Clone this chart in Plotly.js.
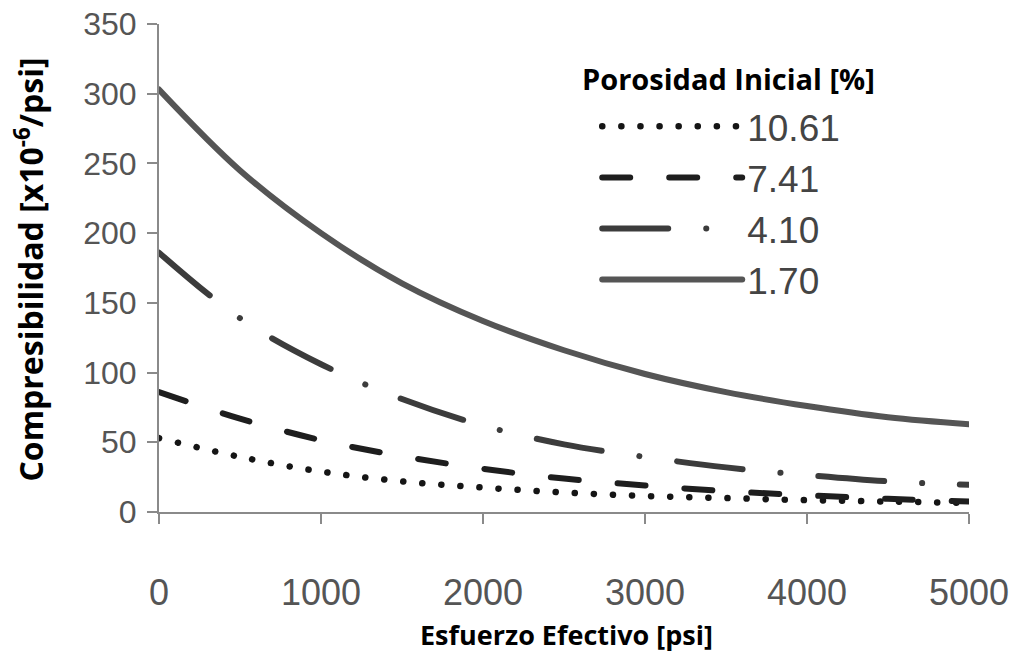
<!DOCTYPE html>
<html>
<head>
<meta charset="utf-8">
<script src="https://cdn.plot.ly/plotly-3.0.1.min.js"></script>
<style>
html,body{margin:0;padding:0;background:#fff;}
#chart{width:1014px;height:652px;}
.js-line{stroke-linecap:round !important;}
</style>
</head>
<body>
<div id="chart"></div>
<script>
// Esfuerzo efectivo [psi]
const esfuerzo = [0, 500, 1000, 1500, 2000, 2500, 3000, 3500, 4000, 4500, 5000];
// Compresibilidad [x10^-6/psi] for each initial porosity
const por_10_61 = [53, 39.5, 29, 22, 17.5, 14, 11.5, 10, 8.5, 7.5, 6.5];
const por_7_41  = [86, 67, 51.5, 40, 31, 24, 19, 15, 12, 9.5, 7.5];
const por_4_10  = [186, 139, 106, 81, 62, 48.5, 39.5, 32, 26.5, 22, 19.5];
const por_1_70  = [303, 245, 200, 164, 137, 116, 99, 86, 76, 68, 63];
const legendNames = ['10.61', '7.41', '4.10', '1.70'];
const xTicks = [0, 1000, 2000, 3000, 4000, 5000];
const yTicks = [0, 50, 100, 150, 200, 250, 300, 350];

const traces = [
  {x: esfuerzo, y: por_10_61, name: legendNames[0], mode: 'lines',
   line: {color: '#151515', width: 6.5, dash: '0.1px,19px', shape: 'spline'}},
  {x: esfuerzo, y: por_7_41, name: legendNames[1], mode: 'lines',
   line: {color: '#1e1e1e', width: 6, dash: '28px,39px', shape: 'spline'}},
  {x: esfuerzo, y: por_4_10, name: legendNames[2], mode: 'lines',
   line: {color: '#3c3c3c', width: 6, dash: '66px,38px,0.1px,38px', shape: 'spline'}},
  {x: esfuerzo, y: por_1_70, name: legendNames[3], mode: 'lines',
   line: {color: '#555555', width: 6, shape: 'spline'}}
];

const boldFont = (s) => ({family: 'Open Sans, sans-serif', size: s, color: '#000', weight: 'bold'});

const layout = {
  width: 1014, height: 652,
  margin: {l: 159, r: 45, t: 24, b: 140},
  paper_bgcolor: '#ffffff', plot_bgcolor: '#ffffff',
  showlegend: true,
  legend: {
    x: 0.541, y: 0.853, xanchor: 'left', yanchor: 'top',
    bgcolor: 'rgba(0,0,0,0)',
    font: {family: 'Liberation Sans, Arial, sans-serif', size: 37, color: '#444'},
    itemwidth: 140,
    traceorder: 'normal'
  },
  xaxis: {
    range: [0, 5000], tickvals: xTicks, ticktext: xTicks.map(String),
    showgrid: false, zeroline: false,
    showline: true, linecolor: '#8a8a8a', linewidth: 2,
    ticks: 'outside', ticklen: 10, tickwidth: 2, tickcolor: '#8a8a8a',
    ticklabelstandoff: 38,
    tickfont: {family: 'Liberation Sans, Arial, sans-serif', size: 36, color: '#555'}
  },
  yaxis: {
    range: [0, 350], tickvals: yTicks, ticktext: yTicks.map(String),
    showgrid: false, zeroline: false,
    showline: true, linecolor: '#8a8a8a', linewidth: 2,
    ticks: 'outside', ticklen: 10, tickwidth: 2, tickcolor: '#8a8a8a',
    ticklabelstandoff: 4,
    tickfont: {family: 'Liberation Sans, Arial, sans-serif', size: 32, color: '#555'}
  },
  annotations: [
    {text: 'Compresibilidad [x10<sup>-6</sup>/psi]', xref: 'paper', yref: 'paper',
     x: -0.161, y: 0.496, xanchor: 'center', yanchor: 'middle', textangle: -90,
     showarrow: false, font: boldFont(32)},
    {text: 'Esfuerzo Efectivo [psi]', xref: 'paper', yref: 'paper',
     x: 0.503, y: -0.25, xanchor: 'center', yanchor: 'middle',
     showarrow: false, font: boldFont(27)},
    {text: 'Porosidad Inicial [%]', xref: 'paper', yref: 'paper',
     x: 0.52, y: 0.889, xanchor: 'left', yanchor: 'middle',
     showarrow: false, font: boldFont(29)}
  ]
};

Plotly.newPlot('chart', traces, layout, {staticPlot: true, displayModeBar: false});
</script>
</body>
</html>
